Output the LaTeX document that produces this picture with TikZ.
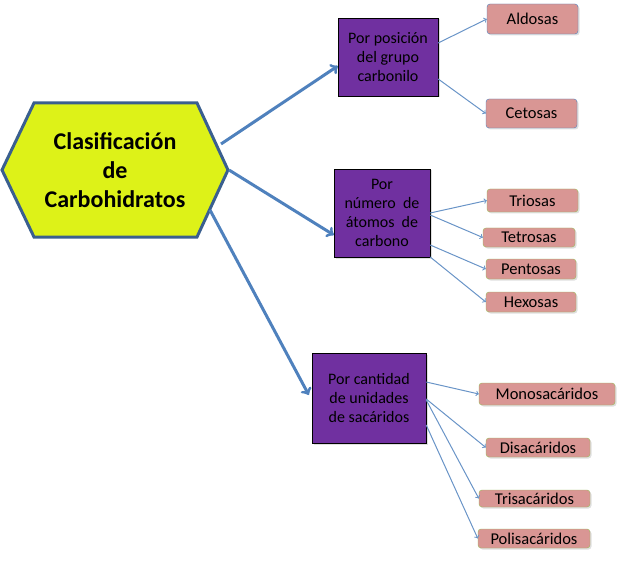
\documentclass[tikz,border=0pt]{standalone}
\usepackage{fontspec}
\setmainfont{Carlito}
\usepackage{tikz}
\usetikzlibrary{shapes,calc,arrows,shadows}
\definecolor{hexfill}{HTML}{DDF218}
\definecolor{hexline}{HTML}{3A5F8F}
\definecolor{purplebox}{HTML}{7030A0}
\definecolor{pinkbox}{HTML}{D99694}
\definecolor{greenline}{HTML}{9BBB59}
\definecolor{blueline}{HTML}{4F81BD}

\begin{document}
\begin{tikzpicture}[x=1pt, y=-1pt, >=to,
    crit/.style={draw=black, fill=purplebox, align=center, inner sep=0pt, font=\fontsize{16}{19}\selectfont,
        drop shadow={opacity=0.25, shadow xshift=1.5pt, shadow yshift=-1.5pt}},
    leaf/.style={draw=greenline, fill=pinkbox, rounded corners=3pt, inner sep=0pt, font=\fontsize{16.5}{18}\selectfont,
        drop shadow={opacity=0.25, shadow xshift=1.5pt, shadow yshift=-1.5pt}},
    big/.style={->, blueline, line width=3pt},
    small/.style={->, blueline!85, line width=1pt}]
    \useasboundingbox (0,0) rectangle (621,564);
    \draw[hexline, fill=hexfill, line width=3pt, line join=miter] (2,170) -- (34,103) -- (197,103) -- (228,170) -- (197,237) -- (34,237) -- cycle;
    \node[align=center, font=\fontsize{24}{29}\selectfont\bfseries] (clas) at (115,170) {Clasificación\\de\\Carbohidratos};
    \coordinate (h1) at (221,144);
    \coordinate (h2) at (229,170);
    \coordinate (h3) at (210,210);

    \node[crit, minimum width=100, minimum height=78] (pos) at (388,57) {Por posición\\del grupo\\carbonilo};
    \node[crit, minimum width=96, minimum height=88] (num) at (382,213) {Por\\número~~de\\átomos~~de\\carbono};
    \node[crit, minimum width=114, minimum height=90] (cant) at (369,398) {Por cantidad\\de unidades\\de sacáridos};

    \node[leaf, draw=blueline, minimum width=91, minimum height=30] (ald) at (532.5,19) {Aldosas};
    \node[leaf, draw=blueline, minimum width=91, minimum height=29] (cet) at (531.5,113.5) {Cetosas};
    \node[leaf, minimum width=91, minimum height=23] (tri) at (532.5,200.5) {Triosas};
    \node[leaf, minimum width=92, minimum height=19] (tet) at (529,237.5) {Tetrosas};
    \node[leaf, minimum width=90, minimum height=20] (pen) at (531,269) {Pentosas};
    \node[leaf, minimum width=90, minimum height=20] (hex) at (531,302) {Hexosas};
    \node[leaf, minimum width=136, minimum height=22] (mono) at (547,394) {Monosacáridos};
    \node[leaf, minimum width=104, minimum height=19] (di) at (538,447.5) {Disacáridos};
    \node[leaf, minimum width=111, minimum height=17] (tris) at (534.5,498.5) {Trisacáridos};
    \node[leaf, minimum width=112, minimum height=19] (poli) at (534,538.5) {Polisacáridos};

    \draw[big] (h1) -- ([yshift=-9pt]pos.west);
    \draw[big] (h2) -- ([yshift=-22pt]num.west);
    \draw[big] (h3) -- ([xshift=-3pt,yshift=3pt]cant.west);

    \draw[small] ([yshift=14pt]pos.east) -- (ald.west);
    \draw[small] ([yshift=-22pt]pos.east) -- (cet.west);
    \draw[small] (num.east) -- (tri.west);
    \draw[small] ([yshift=-2pt]num.east) -- (tet.west);
    \draw[small] ([yshift=-32pt]num.east) -- (pen.west);
    \draw[small] ([yshift=-44pt]num.east) -- (hex.west);
    \draw[small] ([yshift=16pt]cant.east) -- (mono.west);
    \draw[small] ([yshift=-1pt]cant.east) -- (di.west);
    \draw[small] ([yshift=-2pt]cant.east) -- (tris.west);
    \draw[small] ([yshift=-27pt]cant.east) -- (poli.west);
\end{tikzpicture}
\end{document}
